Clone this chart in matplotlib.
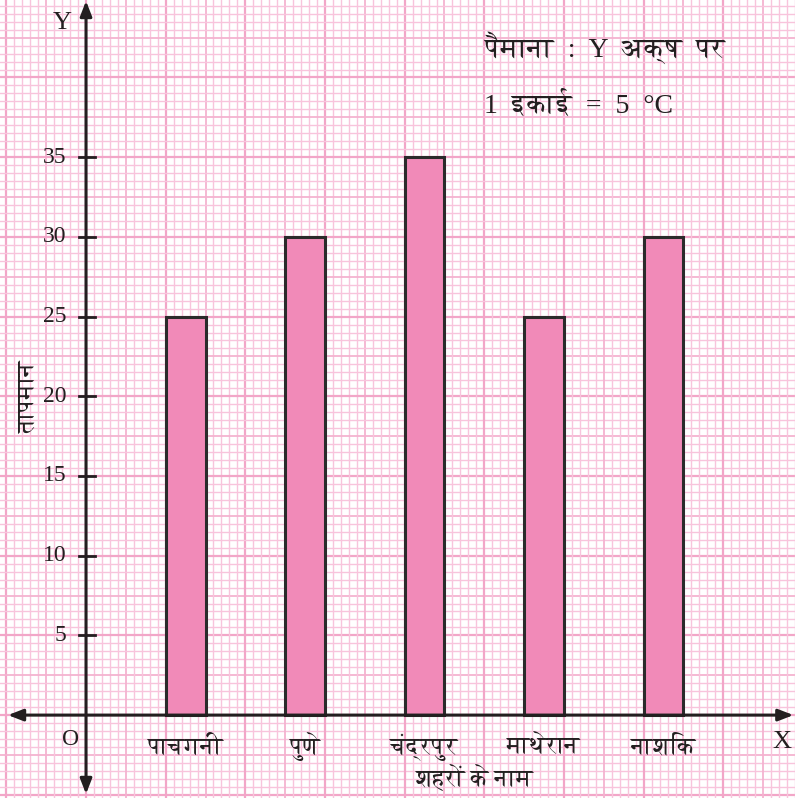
import numpy as np
import matplotlib.pyplot as plt
import matplotlib.font_manager as fm
from matplotlib.ft2font import FT2Font

cities = ["पाचगनी", "पुणे", "चंद्रपुर", "माथेरान", "नाशिक"]
temps = [25, 30, 35, 25, 30]
yticks = [5, 10, 15, 20, 25, 30, 35]

# look for any installed font that has Devanagari glyphs (serif first, mono last)
deva = []
for f in fm.fontManager.ttflist:
    try:
        if 0x092A in FT2Font(f.fname).get_charmap() and f.name not in deva:
            deva.append(f.name)
    except Exception:
        pass
deva.sort(key=lambda n: ("Mono" in n, "Serif" not in n))
serif = ["Liberation Serif", "DejaVu Serif"]
hindi = serif + deva + ["DejaVu Sans"]

fig = plt.figure(figsize=(7.95, 7.98), dpi=100)
ax = fig.add_axes([0, 0, 1, 1])
ax.set_xlim(-5.4, 44.5)
ax.set_ylim(-5.2, 44.86)
ax.axis("off")

# graph paper
for v in np.arange(-5, 45.01, 0.5):
    if abs(v / 5 - round(v / 5)) < 1e-6:
        c, lw = "#f2a6c8", 1.6
    elif abs(v / 2.5 - round(v / 2.5)) < 1e-6:
        c, lw = "#f4b3d0", 1.3
    else:
        c, lw = "#f8c4dc", 1.0
    ax.axvline(v, color=c, lw=lw, zorder=0)
    ax.axhline(v, color=c, lw=lw, zorder=0)

# bars
xpos = 6.25 + 7.5 * np.arange(len(cities))
ax.bar(xpos, temps, width=2.5, color="#f18ab8", edgecolor="#2b2b2b", linewidth=2.2, zorder=2)

# axes with arrows
arrow = dict(arrowstyle="-|>,head_length=0.9,head_width=0.35", color="#231f20", lw=2.2, shrinkA=0, shrinkB=0)
ax.annotate("", xy=(-4.9, 0), xytext=(0, 0), arrowprops=arrow, zorder=3)
ax.annotate("", xy=(44.4, 0), xytext=(0, 0), arrowprops=arrow, zorder=3)
ax.annotate("", xy=(0, 44.8), xytext=(0, 0), arrowprops=arrow, zorder=3)
ax.annotate("", xy=(0, -4.95), xytext=(0, 0), arrowprops=arrow, zorder=3)

for t in yticks:
    ax.plot([-0.45, 0.55], [t, t], color="#231f20", lw=2, zorder=3)
    ax.text(-1.25, t, str(t), family=serif, fontsize=17, ha="right", va="center", color="#231f20")

ax.text(-1.5, 43.4, "Y", family=serif, fontsize=19, ha="center", va="center", color="#231f20")
ax.text(-1.0, -1.5, "O", family=serif, fontsize=17, ha="center", va="center", color="#231f20")
ax.text(43.7, -1.7, "X", family=serif, fontsize=19, ha="center", va="center", color="#231f20")

for x, name in zip(xpos, cities):
    ax.text(x, -2.0, name, family=hindi, fontsize=17, ha="center", va="center", color="#231f20")

ax.text(24.4, -3.9, "शहरों के नाम", family=hindi, fontsize=17, ha="center", va="center", color="#231f20")
ax.text(-3.6, 20.0, "तापमान", family=hindi, fontsize=17, rotation=90, ha="center", va="center", color="#231f20")

ax.text(25.0, 41.9, "पैमाना  :  Y  अक्ष  पर", family=hindi, fontsize=20, ha="left", va="center", color="#231f20")
ax.text(25.0, 38.3, "1  इकाई  =  5  °C", family=hindi, fontsize=20, ha="left", va="center", color="#231f20")

fig.savefig("out.png", dpi=100)
